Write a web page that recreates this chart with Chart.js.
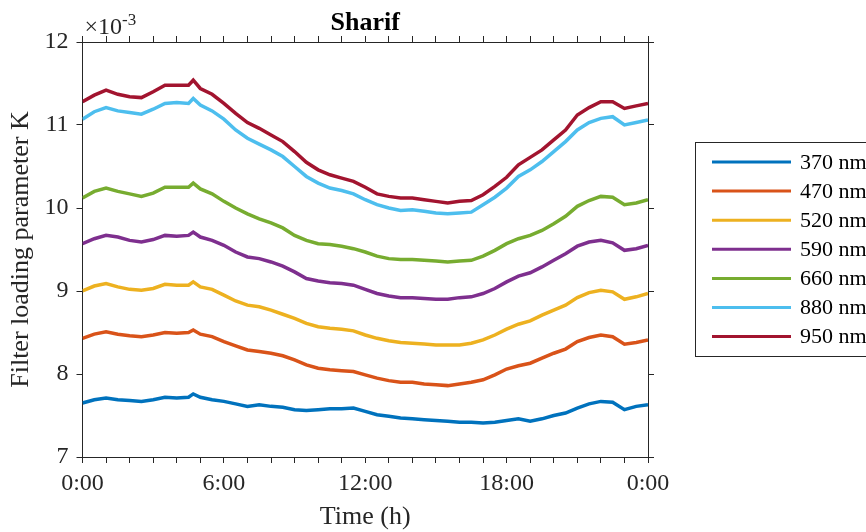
<!DOCTYPE html>
<html>
<head>
<meta charset="utf-8">
<script src="https://cdn.jsdelivr.net/npm/chart.js@4.4.1/dist/chart.umd.min.js"></script>
<style>
  body { margin: 0; background: #fff; }
  canvas { display: block; }
</style>
</head>
<body>
<canvas id="grafico" width="866" height="532"></canvas>
<script>
// Tempo em horas (0:00 a 0:00 do dia seguinte)
const horas = [0, 0.5, 1, 1.5, 2, 2.5, 3, 3.5, 4, 4.5, 4.7, 5, 5.5, 6, 6.5, 7, 7.5, 8, 8.5, 9, 9.5, 10, 10.5, 11, 11.5, 12,
    12.5, 13, 13.5, 14, 14.5, 15, 15.5, 16, 16.5, 17, 17.5, 18, 18.5, 19, 19.5, 20, 20.5, 21, 21.5, 22, 22.5, 23, 23.5, 24];

// Parametro K (x10^-3) por comprimento de onda
const k370 = [7.65, 7.69, 7.71, 7.69, 7.68, 7.67, 7.69, 7.72, 7.71, 7.72, 7.76, 7.72, 7.69, 7.67, 7.64, 7.61, 7.63, 7.61, 7.60, 7.57, 7.56, 7.57, 7.58, 7.58, 7.59, 7.55,
    7.51, 7.49, 7.47, 7.46, 7.45, 7.44, 7.43, 7.42, 7.42, 7.41, 7.42, 7.44, 7.46, 7.43, 7.46, 7.50, 7.53, 7.59, 7.64, 7.67, 7.66, 7.57, 7.61, 7.63];
const k470 = [8.43, 8.48, 8.51, 8.48, 8.46, 8.45, 8.47, 8.50, 8.49, 8.50, 8.53, 8.48, 8.45, 8.39, 8.34, 8.29, 8.27, 8.25, 8.22, 8.17, 8.11, 8.07, 8.05, 8.04, 8.03, 7.99,
    7.95, 7.92, 7.90, 7.90, 7.88, 7.87, 7.86, 7.88, 7.90, 7.93, 7.99, 8.06, 8.10, 8.13, 8.19, 8.25, 8.30, 8.39, 8.44, 8.47, 8.45, 8.36, 8.38, 8.41];
const k520 = [9.00, 9.06, 9.09, 9.05, 9.02, 9.01, 9.03, 9.08, 9.07, 9.07, 9.11, 9.05, 9.02, 8.95, 8.88, 8.83, 8.81, 8.77, 8.72, 8.67, 8.61, 8.57, 8.55, 8.54, 8.52, 8.47,
    8.43, 8.40, 8.38, 8.37, 8.36, 8.35, 8.35, 8.35, 8.37, 8.41, 8.47, 8.54, 8.60, 8.64, 8.71, 8.77, 8.83, 8.92, 8.98, 9.01, 8.99, 8.90, 8.93, 8.97];
const k590 = [9.57, 9.63, 9.67, 9.65, 9.61, 9.59, 9.62, 9.67, 9.66, 9.67, 9.71, 9.65, 9.61, 9.55, 9.47, 9.41, 9.39, 9.35, 9.30, 9.23, 9.15, 9.12, 9.10, 9.09, 9.07, 9.02,
    8.97, 8.94, 8.92, 8.92, 8.91, 8.90, 8.90, 8.92, 8.93, 8.97, 9.03, 9.11, 9.18, 9.22, 9.29, 9.37, 9.45, 9.54, 9.59, 9.61, 9.58, 9.49, 9.51, 9.55];
const k660 = [10.12, 10.20, 10.24, 10.20, 10.17, 10.14, 10.18, 10.25, 10.25, 10.25, 10.30, 10.23, 10.17, 10.08, 10.00, 9.93, 9.87, 9.82, 9.76, 9.67, 9.61, 9.57, 9.56, 9.54, 9.51, 9.47,
    9.42, 9.39, 9.38, 9.38, 9.37, 9.36, 9.35, 9.36, 9.37, 9.42, 9.49, 9.57, 9.63, 9.67, 9.73, 9.81, 9.90, 10.02, 10.09, 10.14, 10.13, 10.04, 10.06, 10.10];
const k880 = [11.07, 11.16, 11.21, 11.17, 11.15, 11.13, 11.19, 11.26, 11.27, 11.26, 11.32, 11.24, 11.17, 11.07, 10.94, 10.84, 10.77, 10.70, 10.62, 10.50, 10.38, 10.30, 10.24, 10.21, 10.17, 10.10,
    10.04, 10.00, 9.97, 9.98, 9.96, 9.94, 9.93, 9.94, 9.95, 10.04, 10.13, 10.24, 10.38, 10.46, 10.56, 10.68, 10.80, 10.94, 11.03, 11.08, 11.10, 11.00, 11.03, 11.06];
const k950 = [11.28, 11.36, 11.42, 11.37, 11.34, 11.33, 11.40, 11.48, 11.48, 11.48, 11.54, 11.44, 11.37, 11.26, 11.14, 11.03, 10.96, 10.88, 10.80, 10.68, 10.55, 10.46, 10.40, 10.36, 10.32, 10.25,
    10.17, 10.14, 10.12, 10.12, 10.10, 10.08, 10.06, 10.08, 10.09, 10.16, 10.26, 10.37, 10.52, 10.61, 10.70, 10.82, 10.94, 11.12, 11.21, 11.28, 11.28, 11.20, 11.23, 11.26];

const rotulos = ['370 nm', '470 nm', '520 nm', '590 nm', '660 nm', '880 nm', '950 nm'];
const series = [k370, k470, k520, k590, k660, k880, k950];
const cores = ['#0072BD', '#D95319', '#EDB120', '#7E2F8E', '#77AC30', '#4DBEEE', '#A2142F'];

const fonte = 'Liberation Serif, Times New Roman, serif';
const corEixo = '#262626';

// Titulo, expoente e legenda desenhados a mao (estilo MATLAB)
const extras = {
    id: 'extras',
    afterDraw(chart) {
        const ctx = chart.ctx;
        const area = chart.chartArea;
        ctx.save();
        ctx.fillStyle = '#000';
        ctx.textAlign = 'center';
        ctx.textBaseline = 'alphabetic';
        ctx.font = 'bold 26px ' + fonte;
        ctx.fillText('Sharif', (area.left + area.right) / 2, 30);

        ctx.fillStyle = corEixo;
        ctx.textAlign = 'left';
        ctx.font = '24px ' + fonte;
        ctx.fillText('\u00d710', area.left + 2, 34);
        const w = ctx.measureText('\u00d710').width;
        ctx.font = '17px ' + fonte;
        ctx.fillText('-3', area.left + 2 + w, 25);

        // legenda
        ctx.strokeStyle = corEixo;
        ctx.lineWidth = 1;
        ctx.strokeRect(695.5, 142.5, 200, 214);
        ctx.font = '22px ' + fonte;
        ctx.textBaseline = 'middle';
        chart.data.datasets.forEach((ds, i) => {
            const y = 162 + i * 29.1;
            ctx.strokeStyle = ds.borderColor;
            ctx.lineWidth = 3;
            ctx.beginPath();
            ctx.moveTo(712, y);
            ctx.lineTo(791, y);
            ctx.stroke();
            ctx.fillStyle = '#000';
            ctx.fillText(ds.label, 800, y + 1);
        });
        ctx.restore();
    }
};

const ctx = document.getElementById('grafico').getContext('2d');

new Chart(ctx, {
    type: 'line',
    data: {
        datasets: series.map((valores, i) => ({
            label: rotulos[i],
            data: horas.map((h, j) => ({ x: h, y: valores[j] })),
            borderColor: cores[i],
            borderWidth: 3.5,
            pointRadius: 0,
            tension: 0,
            fill: false,
            order: series.length - i
        }))
    },
    options: {
        responsive: false,
        animation: false,
        layout: { padding: 0 },
        plugins: {
            legend: { display: false },
            tooltip: { enabled: false }
        },
        scales: {
            x: {
                type: 'linear',
                position: 'bottom',
                min: 0,
                max: 24,
                afterFit: (s) => { s.height = 75; },
                ticks: {
                    stepSize: 1,
                    autoSkip: false,
                    maxRotation: 0,
                    padding: 6,
                    color: corEixo,
                    font: { family: fonte, size: 24 },
                    callback: (v) => (v % 6 === 0 ? (v % 24) + ':00' : '')
                },
                grid: { drawOnChartArea: false, tickLength: 6, color: corEixo },
                border: { color: corEixo, width: 1 },
                title: {
                    display: true,
                    text: 'Time (h)',
                    color: corEixo,
                    font: { family: fonte, size: 26, lineHeight: 1.15 },
                    padding: { top: 0, bottom: 0 }
                }
            },
            xTopo: {
                type: 'linear',
                position: 'top',
                min: 0,
                max: 24,
                afterFit: (s) => { s.height = 42; },
                ticks: { stepSize: 1, autoSkip: false, display: false },
                grid: { drawOnChartArea: false, tickLength: 6, color: corEixo },
                border: { color: corEixo, width: 1 }
            },
            y: {
                type: 'linear',
                position: 'left',
                min: 7,
                max: 12,
                afterFit: (s) => { s.width = 82.5; },
                ticks: {
                    stepSize: 1,
                    padding: 8,
                    color: corEixo,
                    font: { family: fonte, size: 24 }
                },
                grid: { drawOnChartArea: false, tickLength: 6, color: corEixo },
                border: { color: corEixo, width: 1 },
                title: {
                    display: true,
                    text: 'Filter loading parameter K',
                    color: corEixo,
                    font: { family: fonte, size: 26, lineHeight: 1.2 },
                    padding: { top: 6, bottom: 0 }
                }
            },
            yDireita: {
                type: 'linear',
                position: 'right',
                min: 7,
                max: 12,
                afterFit: (s) => { s.width = 218; },
                ticks: { stepSize: 1, display: false },
                grid: { drawOnChartArea: false, tickLength: 6, color: corEixo },
                border: { color: corEixo, width: 1 }
            }
        }
    },
    plugins: [extras]
});
</script>
</body>
</html>
